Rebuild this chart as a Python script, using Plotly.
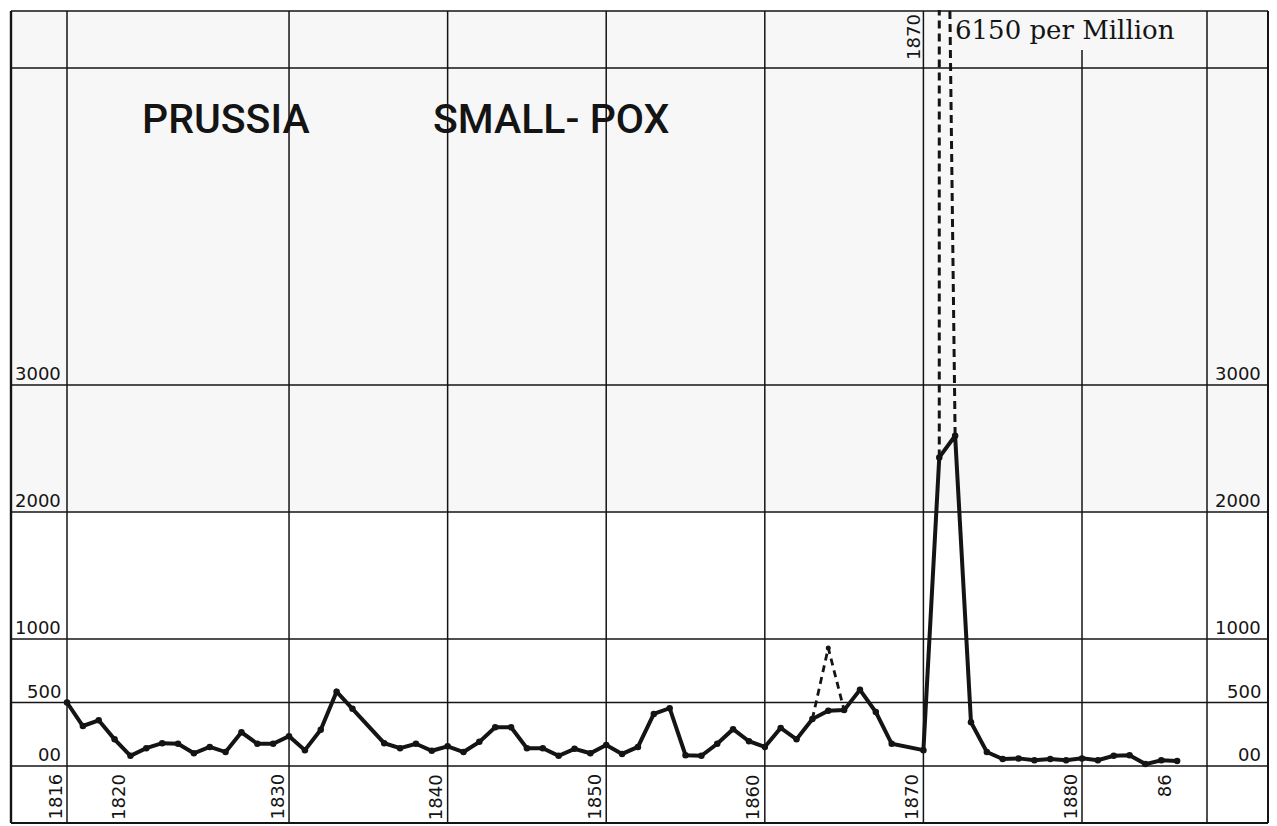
import plotly.graph_objects as go

# ---------------- data ----------------
years = [1816, 1817, 1818, 1819, 1820, 1821, 1822, 1823, 1824, 1825,
         1826, 1827, 1828, 1829, 1830, 1831, 1832, 1833, 1834, 1836,
         1837, 1838, 1839, 1840, 1841, 1842, 1843, 1844, 1845, 1846,
         1847, 1848, 1849, 1850, 1851, 1852, 1853, 1854, 1855, 1856,
         1857, 1858, 1859, 1860, 1861, 1862, 1863, 1864, 1865, 1866,
         1867, 1868, 1870, 1871, 1872, 1873, 1874, 1875, 1876, 1877,
         1878, 1879, 1880, 1881, 1882, 1883, 1884, 1885, 1886]
deaths_per_million = [500, 315, 360, 210, 80, 140, 180, 175, 100, 150,
                      110, 265, 175, 175, 235, 125, 285, 585, 450, 180,
                      140, 175, 120, 155, 110, 190, 305, 305, 140, 140,
                      80, 135, 100, 165, 95, 150, 410, 455, 85, 80,
                      175, 290, 195, 150, 300, 210, 370, 435, 440, 600,
                      425, 175, 125, 2430, 2600, 345, 110, 55, 60, 45,
                      55, 45, 60, 45, 80, 85, 15, 45, 40]

alt_years_1864 = [1863, 1864, 1865]
alt_deaths_1864 = [370, 930, 440]

peak_years_1871 = [1871, 1871, None, 1871.65, 1872]
peak_deaths_1871 = [2430, 6150, None, 6150, 2600]
peak_label = "6150 per Million"

y_levels = [0, 500, 1000, 2000, 3000]
y_level_labels = ["00", "500", "1000", "2000", "3000"]
grid_years = [1816, 1830, 1840, 1850, 1860, 1870, 1880]
label_years = [1816, 1820, 1830, 1840, 1850, 1860, 1870, 1880, 1886]
label_texts = ["1816", "1820", "1830", "1840", "1850", "1860", "1870", "1880", "86"]
title_left = "PRUSSIA"
title_right = "SMALL- POX"

# ---------------- layout helpers ----------------
W, H = 1277, 826
TOP = 10
INK = "#141414"
NUMFONT = dict(family="DejaVu Sans", size=18, color=INK)


def px_x(p):
    return p / W


def px_y(p):
    return 1 - (p - TOP) / (H - TOP)


LEFT_PX, RIGHT_PX = 11, 1268

fig = go.Figure()

fig.add_trace(go.Scatter(
    x=years, y=deaths_per_million, mode="lines+markers",
    line=dict(color=INK, width=4), marker=dict(color=INK, size=6.5),
    hoverinfo="x+y", showlegend=False))
fig.add_trace(go.Scatter(
    x=alt_years_1864, y=alt_deaths_1864, mode="lines+markers",
    line=dict(color=INK, width=2.8, dash="7px,5px"), marker=dict(color=INK, size=5),
    showlegend=False))
fig.add_trace(go.Scatter(
    x=peak_years_1871, y=peak_deaths_1871, mode="lines",
    line=dict(color=INK, width=3, dash="8px,5px"),
    showlegend=False))

shapes = []
# light shading above the 2000 line
shapes.append(dict(type="rect", xref="paper", yref="y", x0=px_x(LEFT_PX), x1=px_x(RIGHT_PX),
                   y0=2000, y1=6500, fillcolor="#f7f7f7", line=dict(width=0), layer="below"))
# horizontal level lines
for v in y_levels:
    shapes.append(dict(type="line", xref="paper", yref="y", x0=px_x(LEFT_PX), x1=px_x(RIGHT_PX),
                       y0=v, y1=v, line=dict(color=INK, width=1.6), layer="below"))
# frame lines (paper)
for py in [TOP + 1, 68]:
    shapes.append(dict(type="line", xref="paper", yref="paper", x0=px_x(LEFT_PX), x1=px_x(RIGHT_PX),
                       y0=px_y(py), y1=px_y(py), line=dict(color=INK, width=1.6), layer="below"))
shapes.append(dict(type="line", xref="paper", yref="paper", x0=px_x(LEFT_PX), x1=px_x(RIGHT_PX),
                   y0=px_y(823), y1=px_y(823), line=dict(color=INK, width=2), layer="below"))
for pxv, w in [(LEFT_PX, 2.4), (1207, 1.5), (RIGHT_PX, 2.0)]:
    shapes.append(dict(type="line", xref="paper", yref="paper", x0=px_x(pxv), x1=px_x(pxv),
                       y0=px_y(823), y1=px_y(TOP + 1), line=dict(color=INK, width=w), layer="below"))
# vertical year lines
for yr in grid_years:
    top_px = 50 if yr == 1880 else TOP + 1
    shapes.append(dict(type="line", xref="x", yref="paper", x0=yr, x1=yr,
                       y0=px_y(823), y1=px_y(top_px), line=dict(color=INK, width=1.5), layer="below"))

annotations = []
for v, t in zip(y_levels, y_level_labels):
    for pxv in [63, 1263]:
        annotations.append(dict(x=px_x(pxv), y=v, xref="paper", yref="y", text=t, showarrow=False,
                                xanchor="right", yanchor="bottom", yshift=-1, font=NUMFONT))
for yr, t in zip(label_years, label_texts):
    annotations.append(dict(x=yr, y=px_y(772), xref="x", yref="paper", text=t, showarrow=False,
                            textangle=-90, xanchor="right", yanchor="top", xshift=0, font=NUMFONT))
# top "1870" label
annotations.append(dict(x=1870, y=px_y(12), xref="x", yref="paper", text="1870", showarrow=False,
                        textangle=-90, xanchor="right", yanchor="top", xshift=3, font=NUMFONT))
annotations.append(dict(x=px_x(953), y=px_y(30), xref="paper", yref="paper", text=peak_label,
                        showarrow=False, xanchor="left", yanchor="middle",
                        font=dict(family="DejaVu Serif", size=26, color=INK)))
TITLEFONT = dict(family="Roboto", size=41, color=INK, weight=500)
annotations.append(dict(x=px_x(140), y=px_y(119), xref="paper", yref="paper", text=title_left,
                        showarrow=False, xanchor="left", yanchor="middle", font=TITLEFONT))
annotations.append(dict(x=px_x(431), y=px_y(119), xref="paper", yref="paper", text=title_right,
                        showarrow=False, xanchor="left", yanchor="middle", font=TITLEFONT))

px_per_year = (1082 - 67) / 64.0
x0 = 1816 - 67 / px_per_year
x1 = 1816 + (W - 67) / px_per_year
py_per_unit = 0.127
y_top = (766 - TOP) / py_per_unit
y_bot = (766 - H) / py_per_unit

fig.update_layout(
    width=W, height=H,
    margin=dict(l=0, r=0, t=TOP, b=0, pad=0),
    paper_bgcolor="white", plot_bgcolor="white",
    xaxis=dict(range=[x0, x1], visible=False, fixedrange=True),
    yaxis=dict(range=[y_bot, y_top], visible=False, fixedrange=True),
    shapes=shapes, annotations=annotations,
    showlegend=False,
)

fig.write_html("out.html", config={"displayModeBar": False},
               post_script="document.body.style.margin='0';document.body.style.overflow='hidden';")
